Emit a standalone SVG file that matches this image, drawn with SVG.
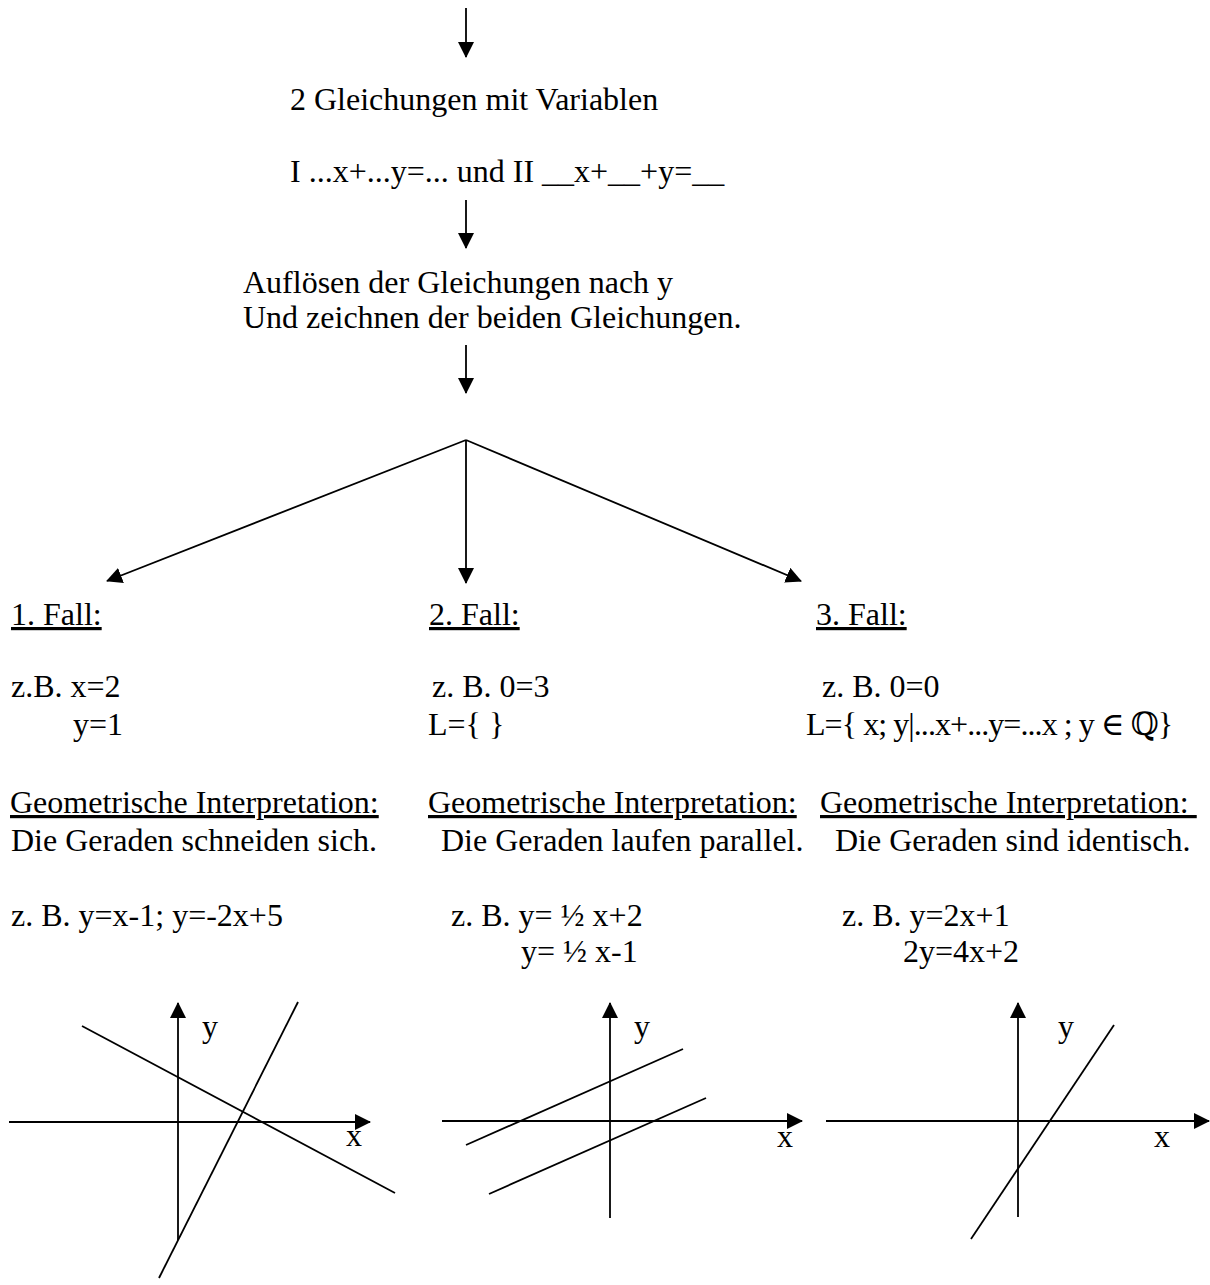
<svg xmlns="http://www.w3.org/2000/svg" width="1210" height="1285" viewBox="0 0 1210 1285">
<defs>
<style>
text{font-family:"Liberation Serif","Times New Roman","DejaVu Serif",serif;font-size:32px;fill:#000}
.u{text-decoration:underline}
.ln{stroke:#000;stroke-width:1.8;fill:none}
.ax{stroke:#000;stroke-width:1.8;fill:none;marker-end:url(#ah)}
</style>
<marker id="ah" markerUnits="userSpaceOnUse" markerWidth="16" markerHeight="16" refX="15" refY="8" orient="auto">
<path d="M0,0 L16,8 L0,16 z" fill="#000"/>
</marker>
</defs>
<rect width="1210" height="1285" fill="#fff"/>

<g id="connectors">
<line class="ax" x1="466" y1="8" x2="466" y2="57"/>
<line class="ax" x1="466" y1="200" x2="466" y2="248"/>
<line class="ax" x1="466" y1="345" x2="466" y2="393"/>
<line class="ax" x1="466" y1="440" x2="107" y2="581"/>
<line class="ax" x1="466" y1="440" x2="466" y2="583"/>
<line class="ax" x1="466" y1="440" x2="801" y2="581"/>
</g>

<g id="n-gleichungen">
<text x="290" y="110">2 Gleichungen mit Variablen</text>
<text x="290" y="182">I ...x+...y=... und II __x+__+y=__</text>
</g>

<g id="n-aufloesen">
<text x="243" y="293">Auflösen der Gleichungen nach y</text>
<text x="243" y="328">Und zeichnen der beiden Gleichungen.</text>
</g>

<g id="n-fall1">
<text x="11" y="625" class="u">1. Fall:</text>
<text x="11" y="697">z.B. x=2</text>
<text x="73" y="735">y=1</text>
<text x="10" y="813" class="u">Geometrische Interpretation:</text>
<text x="11" y="851">Die Geraden schneiden sich.</text>
<text x="11" y="926">z. B. y=x-1; y=-2x+5</text>
</g>

<g id="n-graph1">
<line class="ax" x1="178" y1="1240" x2="178" y2="1003"/>
<line class="ax" x1="9" y1="1122" x2="370" y2="1122"/>
<line class="ln" x1="82" y1="1026" x2="395" y2="1193"/>
<line class="ln" x1="298" y1="1002" x2="159" y2="1278"/>
<text x="202" y="1037">y</text>
<text x="346" y="1146">x</text>
</g>

<g id="n-fall2">
<text x="429" y="625" class="u">2. Fall:</text>
<text x="432" y="697">z. B. 0=3</text>
<text x="428" y="735">L={ }</text>
<text x="428" y="813" class="u">Geometrische Interpretation:</text>
<text x="441" y="851">Die Geraden laufen parallel.</text>
<text x="451" y="926">z. B. y= ½ x+2</text>
<text x="521" y="962">y= ½ x-1</text>
</g>

<g id="n-graph2">
<line class="ax" x1="610" y1="1218" x2="610" y2="1003"/>
<line class="ax" x1="442" y1="1121" x2="802" y2="1121"/>
<line class="ln" x1="466" y1="1145" x2="683" y2="1049"/>
<line class="ln" x1="489" y1="1194" x2="706" y2="1098"/>
<text x="634" y="1037">y</text>
<text x="777" y="1147">x</text>
</g>

<g id="n-fall3">
<text x="816" y="625" class="u">3. Fall:</text>
<text x="822" y="697">z. B. 0=0</text>
<text x="806" y="735" textLength="367">L={ x; y|...x+...y=...x ; y ∈ ℚ}</text>
<text x="820" y="813" class="u">Geometrische Interpretation:&#160;</text>
<text x="835" y="851">Die Geraden sind identisch.</text>
<text x="842" y="926">z. B. y=2x+1</text>
<text x="903" y="962">2y=4x+2</text>
</g>

<g id="n-graph3">
<line class="ax" x1="1018" y1="1217" x2="1018" y2="1003"/>
<line class="ax" x1="826" y1="1121" x2="1209" y2="1121"/>
<line class="ln" x1="1114" y1="1025" x2="971" y2="1239"/>
<text x="1058" y="1037">y</text>
<text x="1154" y="1147">x</text>
</g>
</svg>
